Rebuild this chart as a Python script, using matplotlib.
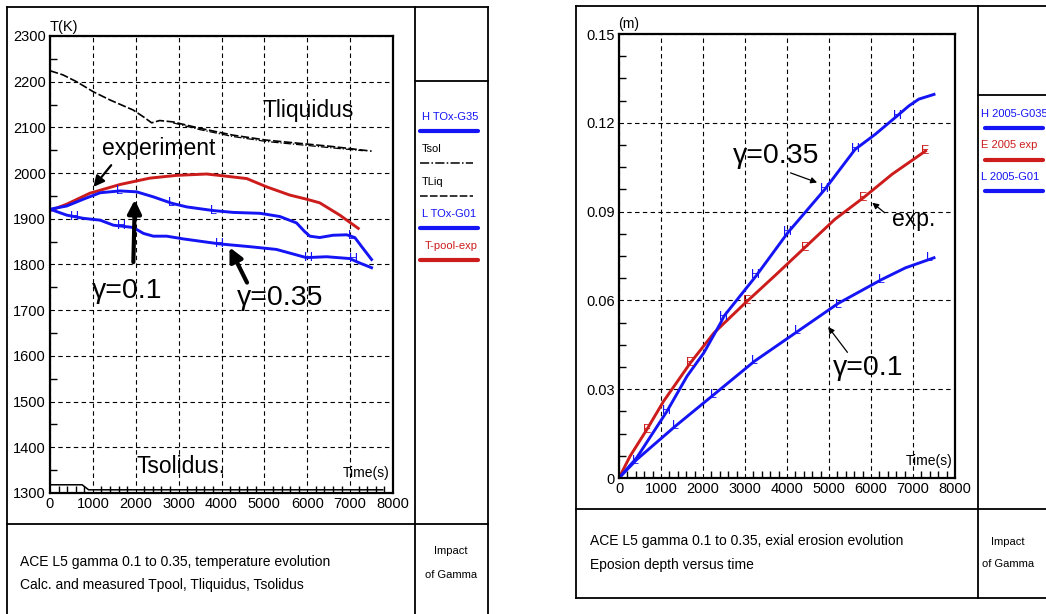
import numpy as np
import matplotlib
matplotlib.use('Agg')
import matplotlib.pyplot as plt
from matplotlib.lines import Line2D
from matplotlib.ticker import MultipleLocator, FixedLocator

plt.rcParams['font.family'] = ['Liberation Sans', 'DejaVu Sans']

W, H = 1046, 614
BLUE = '#1414f5'
RED = '#cc1c1c'

# --- left panel: pool temperature (K) vs time (s) ---
t_liq = [0, 300, 620, 1010, 1400, 1940, 2180, 2370, 2560, 2870, 3500, 4270, 5060, 5830, 6600, 7500]
T_liq = [2224, 2215, 2200, 2178, 2160, 2138, 2123, 2110, 2115, 2112, 2098, 2083, 2072, 2065, 2058, 2048]
t_liq2 = [2870, 3500, 4270, 5060, 5830, 6600, 7300]
T_liq2 = [2110, 2095, 2080, 2069, 2062, 2055, 2049]
t_sol = [0, 750, 900, 7760]
T_sol = [1318, 1318, 1307, 1307]
t_exp = [0, 390, 930, 1630, 2330, 2950, 3650, 4040, 4590, 5050, 5590, 5980, 6290, 6760, 7190]
T_exp = [1918, 1932, 1956, 1975, 1989, 1995, 1998, 1994, 1988, 1970, 1952, 1943, 1935, 1908, 1879]
t_g01 = [0, 390, 780, 1170, 1630, 2020, 2410, 2840, 3190, 3810, 4270, 4900, 5360, 5750, 5940,
         6060, 6290, 6600, 6920, 7110, 7270, 7500]
T_g01 = [1921, 1928, 1943, 1957, 1961, 1959, 1948, 1934, 1926, 1918, 1914, 1912, 1905, 1891, 1872,
         1862, 1859, 1864, 1865, 1859, 1839, 1811]
t_g35 = [0, 390, 780, 1170, 1480, 1940, 2180, 2410, 2720, 3110, 3960, 4660, 5280, 5670, 5980,
         6450, 6990, 7230, 7500]
T_g35 = [1921, 1908, 1901, 1897, 1886, 1881, 1868, 1862, 1862, 1856, 1845, 1839, 1833, 1823, 1815,
         1817, 1813, 1803, 1793]
mk_t_g01 = [1630, 2840, 3810, 7030]
mk_T_g01 = [1961, 1934, 1918, 1863]
mk_t_g35 = [580, 1670, 3960, 6020, 7070]
mk_T_g35 = [1905, 1884, 1845, 1815, 1813]

# --- right panel: erosion depth (m) vs time (s) ---
t_h = [0, 420, 1140, 1620, 2020, 2420, 2500, 3260, 4020, 4900, 5620, 6100, 6620, 6900, 7140, 7500]
d_h = [0, 0.0068, 0.0225, 0.0344, 0.0423, 0.0524, 0.0547, 0.0682, 0.0829, 0.0975, 0.1110, 0.1161,
       0.1223, 0.1257, 0.1280, 0.1296]
t_e = [0, 260, 660, 1060, 1700, 2260, 2980, 3700, 4420, 5140, 5820, 6500, 7300]
d_e = [0, 0.0073, 0.0163, 0.0259, 0.0389, 0.0490, 0.0588, 0.0682, 0.0778, 0.0874, 0.0947, 0.1026, 0.1105]
t_l = [0, 420, 1340, 2260, 3220, 4260, 5220, 6260, 6820, 7500]
d_l = [0, 0.0062, 0.0175, 0.0282, 0.0394, 0.0496, 0.0590, 0.0671, 0.0710, 0.0744]
mk_t_h = [1140, 2500, 3260, 4020, 4900, 5620, 6620]
mk_d_h = [0.0225, 0.0545, 0.0685, 0.0830, 0.0975, 0.1110, 0.1222]
mk_t_e = [660, 1700, 3060, 4420, 5820, 7300]
mk_d_e = [0.0163, 0.0390, 0.0597, 0.0778, 0.0947, 0.1105]
mk_t_l = [400, 1340, 2260, 3220, 4260, 5220, 6260, 7400]
mk_d_l = [0.0058, 0.0175, 0.0282, 0.0394, 0.0496, 0.0586, 0.0670, 0.0744]

left_legend = [('H TOx-G35', BLUE, '-'), ('Tsol', 'black', (0, (6, 1.5, 1, 1.5))),
               ('TLiq', 'black', (0, (5, 1.5))), ('L TOx-G01', BLUE, '-'), ('T-pool-exp', RED, '-')]
right_legend = [('H 2005-G035', BLUE), ('E 2005 exp', RED), ('L 2005-G01', BLUE)]


def fx(x):
    return x / W


def fy(y):
    return 1 - y / H


fig = plt.figure(figsize=(W / 100, H / 100), dpi=100)


def hline(x0, x1, y, lw=1.3):
    fig.add_artist(Line2D([fx(x0), fx(x1)], [fy(y), fy(y)], color='black', lw=lw))


def vline(x, y0, y1, lw=1.3):
    fig.add_artist(Line2D([fx(x), fx(x)], [fy(y0), fy(y1)], color='black', lw=lw))


def style_axes(ax):
    for s in ax.spines.values():
        s.set_linewidth(1.6)
    ax.grid(True, which='major', color='black', ls=(0, (4, 3)), lw=0.8)
    ax.tick_params(which='both', direction='in', labelsize=10.5, top=False, right=False)
    ax.tick_params(which='major', length=0, pad=3)
    ax.tick_params(which='minor', length=5, width=1)


def letters(ax, xs, ys, ch, color):
    for x, y in zip(xs, ys):
        ax.text(x, y, ch, color=color, fontsize=9, ha='center', va='center')


# ---------- left chart ----------
ax1 = fig.add_axes([fx(50), fy(493), fx(343), 457 / H])
ax1.plot(t_liq, T_liq, color='black', lw=1.2, ls=(0, (5, 1.5)))
ax1.plot(t_liq2, T_liq2, color='black', lw=0.9, ls=(0, (6, 1.5, 1, 1.5)))
ax1.plot(t_sol, T_sol, color='black', lw=1.1)
ax1.plot(t_exp, T_exp, color=RED, lw=2.1)
ax1.plot(t_g01, T_g01, color=BLUE, lw=2.1)
ax1.plot(t_g35, T_g35, color=BLUE, lw=2.1)
letters(ax1, mk_t_g01, mk_T_g01, 'L', BLUE)
letters(ax1, mk_t_g35, mk_T_g35, 'H', BLUE)
ax1.set_xlim(0, 8000)
ax1.set_ylim(1300, 2300)
ax1.xaxis.set_major_locator(MultipleLocator(1000))
ax1.xaxis.set_minor_locator(MultipleLocator(200))
ax1.yaxis.set_major_locator(MultipleLocator(100))
ax1.yaxis.set_minor_locator(MultipleLocator(50))
style_axes(ax1)

ax1.text(4965, 2138, 'Tliquidus', fontsize=16.5, va='center')
ax1.text(1212, 2053, 'experiment', fontsize=16.5, va='center')
ax1.annotate('', xy=(972, 1965), xytext=(1468, 2022),
             arrowprops=dict(arrowstyle='-|>', color='black', lw=1.6, mutation_scale=16))
ax1.text(978, 1742, 'γ=0.1', fontsize=20.5, va='center')
ax1.annotate('', xy=(1981, 1948), xytext=(1943, 1799),
             arrowprops=dict(arrowstyle='-|>', color='black', lw=3, mutation_scale=20))
ax1.text(4355, 1727, 'γ=0.35', fontsize=20.5, va='center')
ax1.annotate('', xy=(4158, 1843), xytext=(4624, 1755),
             arrowprops=dict(arrowstyle='-|>', color='black', lw=3, mutation_scale=20))
ax1.text(2020, 1357, 'Tsolidus.', fontsize=16.5, va='center')
ax1.text(7920, 1344, 'Time(s)', fontsize=10, ha='right', va='center')
fig.text(fx(50), fy(27), 'T(K)', fontsize=10.5, va='center')

# ---------- right chart ----------
ax2 = fig.add_axes([fx(619), fy(478), fx(336), 444 / H])
ax2.plot(t_e, d_e, color=RED, lw=2.1)
ax2.plot(t_h, d_h, color=BLUE, lw=2.1)
ax2.plot(t_l, d_l, color=BLUE, lw=2.1)
letters(ax2, mk_t_h, mk_d_h, 'H', BLUE)
letters(ax2, mk_t_e, mk_d_e, 'E', RED)
letters(ax2, mk_t_l, mk_d_l, 'L', BLUE)
ax2.set_xlim(0, 8000)
ax2.set_ylim(0, 0.15)
ax2.xaxis.set_major_locator(MultipleLocator(1000))
ax2.xaxis.set_minor_locator(MultipleLocator(200))
ax2.yaxis.set_major_locator(FixedLocator([0, 0.03, 0.06, 0.09, 0.12, 0.15]))
ax2.yaxis.set_minor_locator(MultipleLocator(0.0075))
ax2.set_yticklabels(['0', '0.03', '0.06', '0.09', '0.12', '0.15'])
style_axes(ax2)

ax2.text(2710, 0.1087, 'γ=0.35', fontsize=20.5, va='center')
ax2.annotate('', xy=(4779, 0.0995), xytext=(4022, 0.1034),
             arrowprops=dict(arrowstyle='-|>', color='black', lw=0.9, mutation_scale=9))
ax2.text(6499, 0.0873, 'exp.', fontsize=16.5, va='center')
ax2.annotate('', xy=(5979, 0.0936), xytext=(6379, 0.0890),
             arrowprops=dict(arrowstyle='-|>', color='black', lw=0.9, mutation_scale=9))
ax2.text(5101, 0.0372, 'γ=0.1', fontsize=20.5, va='center')
ax2.annotate('', xy=(4940, 0.0518), xytext=(5479, 0.0417),
             arrowprops=dict(arrowstyle='-|>', color='black', lw=0.9, mutation_scale=9))
ax2.text(7940, 0.0058, 'Time(s)', fontsize=10, ha='right', va='center')
fig.text(fx(618), fy(24), '(m)', fontsize=10, va='center')

# ---------- frames ----------
hline(7, 488, 7)
vline(7, 7, 614)
vline(488, 7, 614)
vline(415, 7, 614)
hline(415, 488, 81)
hline(7, 488, 524)

hline(576, 1046, 6)
vline(576, 6, 598)
vline(978, 6, 598)
hline(978, 1046, 95)
hline(576, 1046, 509)
hline(576, 1046, 598)

# legend columns
for i, (lab, col, ls) in enumerate(left_legend):
    y = 117 + i * 32.3
    fig.text(fx(422 if i != 4 else 425), fy(y), lab, color=col, fontsize=8, va='center')
    lw = 3 if col != 'black' else 1.1
    fig.add_artist(Line2D([fx(420), fx(478 if col != 'black' else 473)], [fy(y + 14), fy(y + 14)],
                          color=col, lw=lw, ls=ls, solid_capstyle='round'))

for i, (lab, col) in enumerate(right_legend):
    y = 114 + i * 31.5
    fig.text(fx(981), fy(y), lab, color=col, fontsize=8, va='center')
    fig.add_artist(Line2D([fx(985), fx(1043)], [fy(y + 14), fy(y + 14)],
                          color=col, lw=3, solid_capstyle='round'))

# captions
fig.text(fx(20), fy(562), 'ACE L5 gamma 0.1 to 0.35, temperature evolution', fontsize=10, va='center')
fig.text(fx(20), fy(585), 'Calc. and measured Tpool, Tliquidus, Tsolidus', fontsize=10, va='center')
fig.text(fx(451), fy(551), 'Impact', fontsize=8, ha='center', va='center')
fig.text(fx(451), fy(575), 'of Gamma', fontsize=8, ha='center', va='center')

fig.text(fx(590), fy(541), 'ACE L5 gamma 0.1 to 0.35, exial erosion evolution', fontsize=10, va='center')
fig.text(fx(590), fy(565), 'Eposion depth versus time', fontsize=10, va='center')
fig.text(fx(1008), fy(542), 'Impact', fontsize=8, ha='center', va='center')
fig.text(fx(1008), fy(564), 'of Gamma', fontsize=8, ha='center', va='center')

fig.savefig('out.png', dpi=100)
